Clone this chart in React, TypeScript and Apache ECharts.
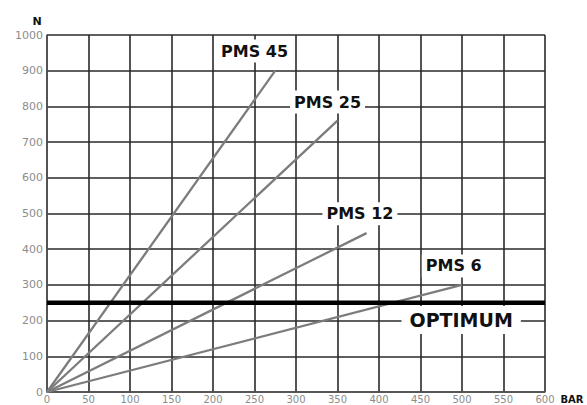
import React, { useEffect, useRef } from "react";
import * as echarts from "echarts";

const xTicks = { min: 0, max: 600, interval: 50 };
const yTicks = { min: 0, max: 1000, interval: 100 };

const seriesNames = ["PMS 45", "PMS 25", "PMS 12", "PMS 6"];
const pms45 = [[0, 0], [275, 900]];
const pms25 = [[0, 0], [350, 760]];
const pms12 = [[0, 0], [385, 445]];
const pms6 = [[0, 0], [500, 300]];
const optimumValue = 250;
const optimumName = "OPTIMUM";

// label anchor positions (data coordinates)
const labelAnchors = [[250, 955], [338, 812], [377, 499], [490, 353]];
const optimumAnchor = [499, 202];

const FONT = "DejaVu Sans";

export default function App() {
  const ref = useRef<HTMLDivElement>(null);
  useEffect(() => {
    if (!ref.current) return;
    const chart = echarts.init(ref.current, null, { renderer: "svg" });
    const lineData = [pms45, pms25, pms12, pms6];
    const labelStyle = (size: number, pad: number[]) => ({
      show: true,
      position: "inside",
      color: "#111",
      fontFamily: FONT,
      fontWeight: "bold",
      fontSize: size,
      backgroundColor: "#fff",
      padding: pad,
      formatter: "{b}",
    });
    const series: any[] = lineData.map((d, i) => ({
      type: "line",
      name: seriesNames[i],
      data: d,
      symbol: "none",
      lineStyle: { color: "#7c7c7c", width: 2.3 },
      z: 3,
      markPoint: {
        symbol: "rect",
        symbolSize: [1, 1],
        itemStyle: { color: "transparent" },
        z: 10,
        label: labelStyle(16, [4, 4, 3, 4]),
        data: [{ name: seriesNames[i], coord: labelAnchors[i] }],
      },
    }));
    series.push({
      type: "line",
      name: optimumName,
      data: [[xTicks.min, optimumValue], [xTicks.max, optimumValue]],
      symbol: "none",
      lineStyle: { color: "#000", width: 4.5 },
      z: 4,
      markPoint: {
        symbol: "rect",
        symbolSize: [1, 1],
        itemStyle: { color: "transparent" },
        z: 10,
        label: labelStyle(19, [5, 8, 4, 8]),
        data: [{ name: optimumName, coord: optimumAnchor }],
      },
    });
    chart.setOption({
      animation: false,
      backgroundColor: "#fff",
      grid: { left: 47, right: 42, top: 35, bottom: 13, containLabel: false, outerBoundsMode: "none" },
      xAxis: {
        type: "value",
        min: xTicks.min,
        max: xTicks.max,
        interval: xTicks.interval,
        name: "BAR",
        nameLocation: "end",
        nameGap: 11,
        nameTextStyle: { color: "#111", fontFamily: FONT, fontWeight: "bold", fontSize: 10, verticalAlign: "top", padding: [2, 0, 0, 0] },
        axisLine: { show: true, lineStyle: { color: "#555", width: 1.5 } },
        axisTick: { show: false },
        axisLabel: { color: "#8c8c8c", fontFamily: FONT, fontSize: 10, margin: 2, formatter: (v: number) => String(v) },
        splitLine: { show: true, lineStyle: { color: "#2a2a2a", width: 1.6 } },
      },
      yAxis: {
        type: "value",
        min: yTicks.min,
        max: yTicks.max,
        interval: yTicks.interval,
        name: "N",
        nameLocation: "end",
        nameGap: 8,
        nameTextStyle: { color: "#111", fontFamily: FONT, fontWeight: "bold", fontSize: 11, align: "center", padding: [0, 20, 0, 0] },
        axisLine: { show: true, lineStyle: { color: "#555", width: 1.5 } },
        axisTick: { show: false },
        axisLabel: { color: "#8c8c8c", fontFamily: FONT, fontSize: 11, margin: 4, formatter: (v: number) => String(v) },
        splitLine: { show: true, lineStyle: { color: "#2a2a2a", width: 1.6 } },
      },
      series,
    });
    return () => chart.dispose();
  }, []);
  return <div ref={ref} style={{ width: 587, height: 405, position: "absolute", left: 0, top: 0 }} />;
}
